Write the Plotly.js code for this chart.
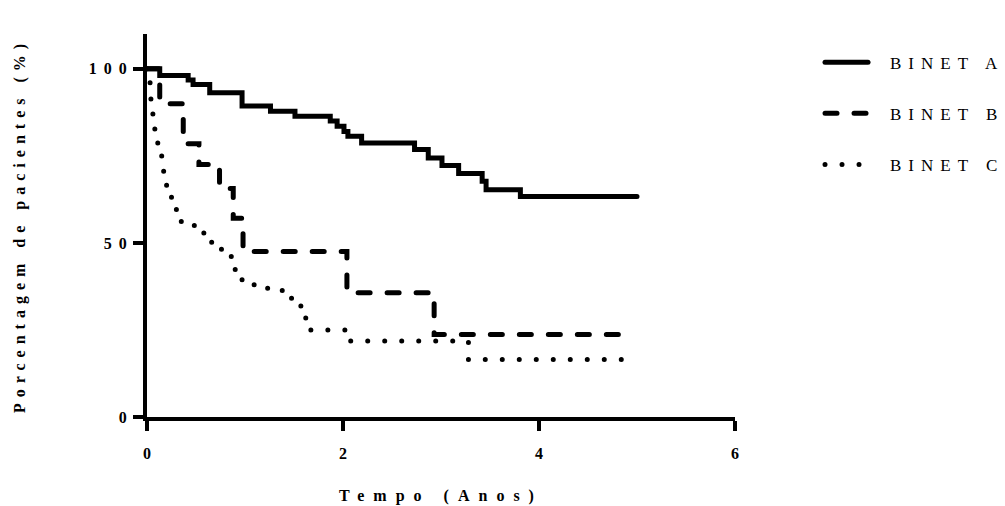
<!DOCTYPE html>
<html>
<head>
<meta charset="utf-8">
<script src="https://cdn.plot.ly/plotly-3.0.1.min.js"></script>
<style>
  html, body { margin: 0; padding: 0; background: #fff; }
  #chart { width: 1005px; height: 506px; }
  .js-line { stroke-linecap: round; stroke-linejoin: miter; }
  .ytick text { letter-spacing: 7px; }
  .g-ytitle text { letter-spacing: 6px; }
  .g-xtitle text { letter-spacing: 9px; }
  .legend .scrollbox { clip-path: none !important; }
  .legendtext { letter-spacing: 7px; transform: translateX(17px); }
</style>
</head>
<body>
<div id="chart"></div>
<script>
// Kaplan-Meier style survival data (time in years, % of patients)
const seriesNames = ["BINET A", "BINET B", "BINET C"];

const timeA = [0, 0.13, 0.42, 0.47, 0.64, 0.97, 1.26, 1.51, 1.87, 1.94, 2.01, 2.05, 2.19, 2.73, 2.87, 3.01, 3.18, 3.42, 3.46, 3.81, 5.0];
const survA = [100, 98.1, 96.8, 95.5, 93.1, 89.3, 87.8, 86.4, 85.0, 83.5, 82.0, 80.6, 78.7, 76.8, 74.4, 72.2, 69.9, 67.7, 65.3, 63.3, 63.3];

const timeB = [0, 0.13, 0.37, 0.53, 0.74, 0.88, 0.98, 2.04, 2.93, 4.88];
const survB = [100, 90, 78.5, 72.5, 65.6, 57.1, 47.5, 35.7, 23.7, 23.7];

const timeC = [0, 0.02, 0.04, 0.06, 0.08, 0.11, 0.15, 0.17, 0.2, 0.25, 0.3, 0.35, 0.58, 0.66, 0.76, 0.86, 0.9, 0.97, 1.1, 1.38, 1.5, 1.57, 1.62, 2.02, 3.28, 4.89];
const survC = [100, 96, 91, 86, 82, 78, 74, 69.5, 65.8, 62, 58.3, 55, 52.3, 49, 47.3, 44.6, 40.3, 38, 37, 34.1, 32.4, 29.5, 25, 21.8, 16.5, 16.5];

const xTicks = [0, 2, 4, 6];
const yTicks = [0, 50, 100];
const xTitle = "Tempo (Anos)";
const yTitle = "Porcentagem de pacientes (%)";

const serif = "'Liberation Serif', 'Times New Roman', serif";

const traces = [
  {x: timeA, y: survA, name: seriesNames[0], legendgroup: "a",
   mode: "lines", line: {shape: "hv", color: "#000", width: 5, dash: "solid"}},
  {x: timeB, y: survB, name: seriesNames[1], legendgroup: "b",
   mode: "lines", line: {shape: "hv", color: "#000", width: 5, dash: "12px,17px"}},
  {x: timeC, y: survC, name: seriesNames[2], legendgroup: "c",
   mode: "lines", line: {shape: "hv", color: "#000", width: 5, dash: "0px,17px"}}
];

const layout = {
  width: 1005, height: 506,
  margin: {l: 147, r: 270, t: 34, b: 89, pad: 0, autoexpand: false},
  paper_bgcolor: "#fff", plot_bgcolor: "#fff",
  showlegend: true,
  legend: {
    x: 1.1446, xanchor: "left", y: 0.972, yanchor: "top",
    font: {family: serif, size: 17, color: "#000"},
    traceorder: "grouped", tracegroupgap: 26, itemwidth: 43,
    bgcolor: "rgba(0,0,0,0)", borderwidth: 0
  },
  xaxis: {
    range: [0, 6], tickvals: xTicks, ticktext: xTicks.map(String),
    showgrid: false, zeroline: false, showline: true, linecolor: "#000", linewidth: 4,
    ticks: "outside", ticklen: 10, tickwidth: 4, tickcolor: "#000",
    tickfont: {family: serif, size: 16, color: "#000", weight: "bold"},
    ticklabelstandoff: 9,
    title: {text: xTitle, font: {family: serif, size: 16, color: "#000", weight: "bold"}, standoff: 30},
    fixedrange: true
  },
  yaxis: {
    range: [0, 110], tickvals: yTicks, ticktext: yTicks.map(String),
    showgrid: false, zeroline: false, showline: true, linecolor: "#000", linewidth: 4,
    ticks: "outside", ticklen: 10, tickwidth: 4, tickcolor: "#000",
    tickfont: {family: serif, size: 16, color: "#000", weight: "bold"},
    ticklabelstandoff: -4,
    title: {text: yTitle, font: {family: serif, size: 16, color: "#000", weight: "bold"}, standoff: 60},
    fixedrange: true
  }
};

Plotly.newPlot("chart", traces, layout, {displayModeBar: false, staticPlot: true});
</script>
</body>
</html>
